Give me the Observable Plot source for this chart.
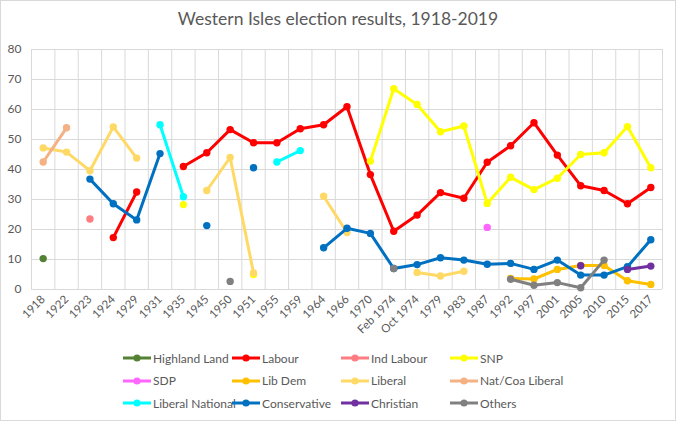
<!DOCTYPE html>
<html>
<head>
<meta charset="utf-8">
<script src="https://cdn.jsdelivr.net/npm/d3@7"></script>
<script src="https://cdn.jsdelivr.net/npm/@observablehq/plot@0.6"></script>
<style>
  body { margin: 0; background: #fff; }
  #wrap { position: relative; width: 676px; height: 421px; background: #fff; font-family: Lato, "Open Sans", sans-serif; overflow: hidden; }
  #title { position: absolute; top: 8px; left: 0; width: 676px; text-align: center; font-size: 17.5px; color: #595959; }
  #chart { position: absolute; left: 0; top: 0; }
  #legend { position: absolute; left: 0; top: 0; width: 676px; height: 421px; pointer-events: none; }
  .item { position: absolute; display: flex; align-items: center; font-size: 12px; color: #595959; white-space: nowrap; }
  .item svg { display: block; margin-right: 2px; }
  #border { position: absolute; left: 0; top: 0; width: 676px; height: 421px; box-sizing: border-box; border: 1px solid #d9d9d9; pointer-events: none; }
</style>
</head>
<body>
<div id="wrap">
  <div id="chart"></div>
  <div id="title">Western Isles election results, 1918-2019</div>
  <div id="legend"></div>
  <div id="border"></div>
</div>
<script>
const years = ["1918","1922","1923","1924","1929","1931","1935","1945","1950","1951","1955","1959","1964","1966","1970","Feb 1974","Oct 1974","1979","1983","1987","1992","1997","2001","2005","2010","2015","2017"];
const yTicks = [0, 10, 20, 30, 40, 50, 60, 70, 80];

const parties = ["Highland Land","Labour","Ind Labour","SNP","SDP","Lib Dem","Liberal","Nat/Coa Liberal","Liberal National","Conservative","Christian","Others"];
const partyColors = ["#548235","#FF0000","#FF7C80","#FFFF00","#FF66FF","#FFC000","#FFD966","#F4B183","#00FFFF","#0070C0","#7030A0","#808080"];

//                   1918  1922  1923  1924  1929  1931  1935  1945  1950  1951  1955  1959  1964  1966  1970  F74   O74   1979  1983  1987  1992  1997  2001  2005  2010  2015  2017
const highlandLand = [10.3, null, null, null, null, null, null, null, null, null, null, null, null, null, null, null, null, null, null, null, null, null, null, null, null, null, null];
const labour       = [null, null, null, 17.3, 32.5, null, 41.0, 45.6, 53.3, 48.9, 48.9, 53.6, 54.9, 60.9, 38.3, 19.4, 24.8, 32.3, 30.4, 42.4, 47.9, 55.6, 44.8, 34.6, 33.0, 28.6, 34.0];
const indLabour    = [null, null, 23.5, null, null, null, null, null, null, null, null, null, null, null, null, null, null, null, null, null, null, null, null, null, null, null, null];
const snp          = [null, null, null, null, null, null, 28.3, null, null, 5.0, null, null, null, null, 42.8, 66.9, 61.7, 52.6, 54.5, 28.7, 37.4, 33.3, 37.1, 45.0, 45.6, 54.3, 40.6];
const sdp          = [null, null, null, null, null, null, null, null, null, null, null, null, null, null, null, null, null, null, null, 20.7, null, null, null, null, null, null, null];
const libDem       = [null, null, null, null, null, null, null, null, null, null, null, null, null, null, null, null, null, null, null, null, 3.7, 3.5, 6.7, 8.0, 8.0, 2.9, 1.7];
const liberal      = [47.2, 45.8, 39.6, 54.2, 43.8, null, null, 33.0, 44.0, 5.5, null, null, 31.1, 19.0, null, null, 5.7, 4.5, 6.1, null, null, null, null, null, null, null, null];
const natCoaLiberal= [42.5, 53.9, null, null, null, null, null, null, null, null, null, null, null, null, null, null, null, null, null, null, null, null, null, null, null, null, null];
const liberalNational = [null, null, null, null, null, 54.9, 30.9, null, null, null, 42.5, 46.3, null, null, null, null, null, null, null, null, null, null, null, null, null, null, null];
const conservative = [null, null, 36.8, 28.6, 23.2, 45.3, null, 21.3, null, 40.6, null, null, 13.9, 20.4, 18.7, 7.0, 8.3, 10.6, 9.8, 8.4, 8.7, 6.7, 9.8, 4.8, 4.8, 7.6, 16.6];
const christian    = [null, null, null, null, null, null, null, null, null, null, null, null, null, null, null, null, null, null, null, null, null, null, null, 7.9, null, 6.7, 7.8];
const others       = [null, null, null, null, null, null, null, null, 2.7, null, null, null, null, null, null, 7.0, null, null, null, null, 3.4, 1.4, 2.3, 0.6, 9.8, null, null];

const seriesValues = [highlandLand, labour, indLabour, snp, sdp, libDem, liberal, natCoaLiberal, liberalNational, conservative, christian, others];

const rows = parties.flatMap((p, k) => seriesValues[k].map((v, i) => ({party: p, i, v})));

const seriesMarks = parties.flatMap((p, k) => {
  const data = rows.filter(d => d.party === p);
  return [
    Plot.line(data, {x: "i", y: "v", stroke: partyColors[k], strokeWidth: 3, strokeLinejoin: "round", strokeLinecap: "round"}),
    Plot.dot(data.filter(d => d.v != null), {x: "i", y: "v", fill: partyColors[k], r: 3.7, stroke: "none"})
  ];
});

const n = years.length;
const chart = Plot.plot({
  width: 676,
  height: 340,
  marginTop: 49,
  marginBottom: 51,
  marginLeft: 31,
  marginRight: 14,
  style: {fontFamily: "Lato, 'Open Sans', sans-serif", background: "transparent", color: "#595959"},
  x: {type: "linear", domain: [-0.5, n - 0.5]},
  y: {domain: [0, 80]},
  marks: [
    Plot.gridY(yTicks, {stroke: "#d9d9d9", strokeOpacity: 1}),
    Plot.ruleX(d3.range(n + 1), {x: d => d - 0.5, stroke: "#d9d9d9", strokeOpacity: 1}),
    Plot.axisY(yTicks, {tickSize: 0, tickPadding: 10, fontSize: 12, fill: "#595959", label: null}),
    Plot.axisX(d3.range(n), {tickFormat: i => years[i], tickRotate: -45, tickSize: 0, tickPadding: 8, fontSize: 11.5, fill: "#595959", label: null}),
    ...seriesMarks
  ]
});
document.getElementById("chart").appendChild(chart);

// legend
const legend = document.getElementById("legend");
parties.forEach((p, k) => {
  const col = k % 4, row = Math.floor(k / 4);
  const item = document.createElement("div");
  item.className = "item";
  item.style.left = (123 + col * 109) + "px";
  item.style.top = (350 + row * 22.7) + "px";
  item.style.height = "16px";
  const c = partyColors[k];
  item.innerHTML = `<svg width="28" height="10"><line x1="0" y1="5" x2="28" y2="5" stroke="${c}" stroke-width="3"/><circle cx="14" cy="5" r="3.6" fill="${c}"/></svg><span>${p}</span>`;
  legend.appendChild(item);
});
</script>
</body>
</html>
